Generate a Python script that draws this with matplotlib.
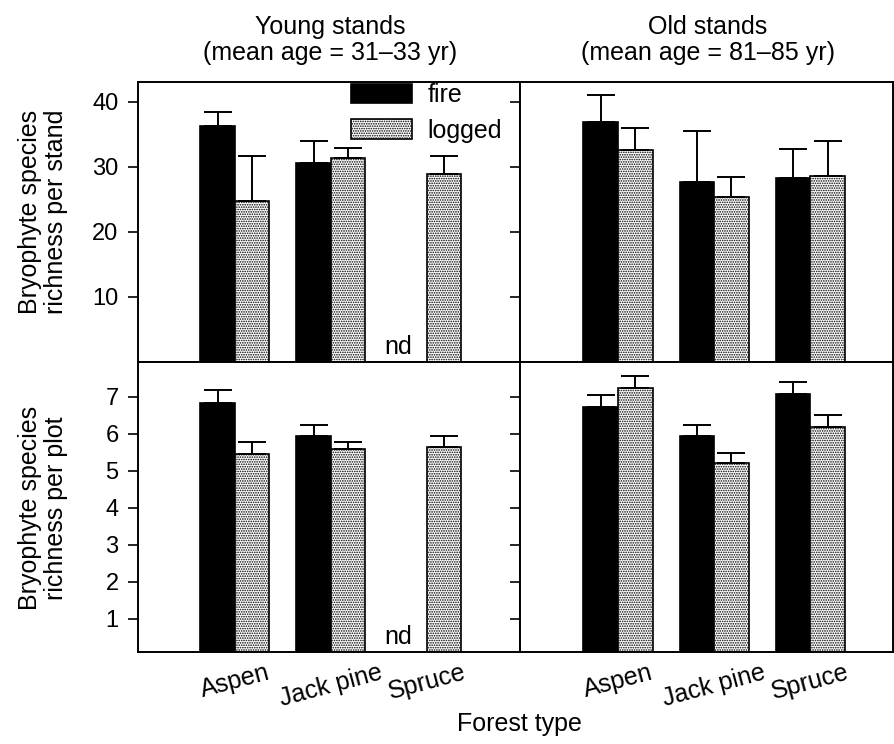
import numpy as np
import matplotlib
matplotlib.use("Agg")
import matplotlib.pyplot as plt
import matplotlib.transforms as mtransforms

plt.rcParams.update({
    "font.family": ["Liberation Sans", "DejaVu Sans"],
    "font.size": 18,
    "axes.linewidth": 1.4,
    "hatch.linewidth": 0.8,
})

# ==========================
# DATA
# ==========================
forest_types = ["Aspen", "Jack pine", "Spruce"]

# richness per stand
young_stand_fire = [36.3, 30.5, np.nan]
young_stand_fire_err = [2.1, 3.5, np.nan]
young_stand_logged = [24.7, 31.3, 28.8]
young_stand_logged_err = [7.0, 1.6, 2.9]
old_stand_fire = [36.8, 27.7, 28.3]
old_stand_fire_err = [4.2, 7.7, 4.4]
old_stand_logged = [32.6, 25.3, 28.6]
old_stand_logged_err = [3.4, 3.1, 5.4]

# richness per plot
young_plot_fire = [6.84, 5.94, np.nan]
young_plot_fire_err = [0.34, 0.29, np.nan]
young_plot_logged = [5.44, 5.59, 5.64]
young_plot_logged_err = [0.35, 0.20, 0.29]
old_plot_fire = [6.72, 5.94, 7.08]
old_plot_fire_err = [0.33, 0.29, 0.33]
old_plot_logged = [7.24, 5.22, 6.19]
old_plot_logged_err = [0.31, 0.26, 0.31]

# ==========================
# LAYOUT
# ==========================
W, H = 895, 744
fig = plt.figure(figsize=(W / 100, H / 100), dpi=100)

def px_axes(x0, y0, x1, y1):
    return fig.add_axes([x0 / W, 1 - y1 / H, (x1 - x0) / W, (y1 - y0) / H])

ax_tl = px_axes(138, 82, 520, 362)
ax_tr = px_axes(520, 82, 893, 362)
ax_bl = px_axes(138, 362, 520, 652)
ax_br = px_axes(520, 362, 893, 652)

x = np.arange(len(forest_types))
bw = 0.36
hatch_kw = dict(facecolor="white", hatch=".......", edgecolor="black")


def draw(ax, fire, fire_err, logged, logged_err):
    fire = np.array(fire)
    logged = np.array(logged)
    ax.bar(x - bw / 2, fire, bw, color="black", edgecolor="black",
           linewidth=1.2, label="fire")
    ax.bar(x + bw / 2, logged, bw, linewidth=1.2, label="logged", **hatch_kw)
    ax.errorbar(x - bw / 2, fire, yerr=[np.zeros(3), fire_err], fmt="none",
                ecolor="black", elinewidth=1.4, capsize=10, capthick=1.4)
    ax.errorbar(x + bw / 2, logged, yerr=[np.zeros(3), logged_err], fmt="none",
                ecolor="black", elinewidth=1.4, capsize=10, capthick=1.4)


draw(ax_tl, young_stand_fire, young_stand_fire_err, young_stand_logged, young_stand_logged_err)
draw(ax_tr, old_stand_fire, old_stand_fire_err, old_stand_logged, old_stand_logged_err)
draw(ax_bl, young_plot_fire, young_plot_fire_err, young_plot_logged, young_plot_logged_err)
draw(ax_br, old_plot_fire, old_plot_fire_err, old_plot_logged, old_plot_logged_err)

for ax in (ax_tl, ax_bl):
    ax.set_xlim(-1.01, 2.97)
for ax in (ax_tr, ax_br):
    ax.set_xlim(-1.02, 2.86)

for ax in (ax_tl, ax_tr):
    ax.set_ylim(0, 43)
    ax.set_yticks([10, 20, 30, 40])
    ax.set_xticks([])
for ax in (ax_bl, ax_br):
    ax.set_ylim(0.1, 7.94)
    ax.set_yticks([1, 2, 3, 4, 5, 6, 7])
    ax.set_xticks(x)
    ax.set_xticklabels(forest_types, rotation=15, ha="center", fontsize=18)
    ax.tick_params(axis="x", length=0, pad=6)

for ax in (ax_tl, ax_tr, ax_bl, ax_br):
    ax.tick_params(axis="y", direction="out", length=7, width=1.2, labelsize=17, pad=7)
for ax in (ax_tr, ax_br):
    ax.tick_params(axis="y", labelleft=False)

# nd markers (no data for fire-origin young spruce)
for ax in (ax_tl, ax_bl):
    trans = mtransforms.blended_transform_factory(ax.transData, ax.transAxes)
    ax.text(1.7, 0.01, "nd", transform=trans, ha="center", va="bottom", fontsize=18)

ax_tl.legend(loc="upper left", bbox_to_anchor=(0.558, 0.995), frameon=False,
             borderpad=0, borderaxespad=0, handlelength=2.45, handleheight=0.8,
             labelspacing=0.45, handletextpad=0.6, fontsize=18)

fig.text(330 / W, 1 - 40 / H, "Young stands\n(mean age = 31\u201333 yr)",
         ha="center", va="center", fontsize=18, linespacing=1.15)
fig.text(708 / W, 1 - 40 / H, "Old stands\n(mean age = 81\u201385 yr)",
         ha="center", va="center", fontsize=18, linespacing=1.15)

fig.text(43 / W, 1 - 212 / H, "Bryophyte species\nrichness per stand",
         rotation=90, ha="center", va="center", fontsize=18, linespacing=1.1)
fig.text(43 / W, 1 - 508 / H, "Bryophyte species\nrichness per plot",
         rotation=90, ha="center", va="center", fontsize=18, linespacing=1.1)
fig.text(519 / W, 1 - 724 / H, "Forest type", ha="center", va="center", fontsize=18)

fig.savefig("out.png", dpi=100)
